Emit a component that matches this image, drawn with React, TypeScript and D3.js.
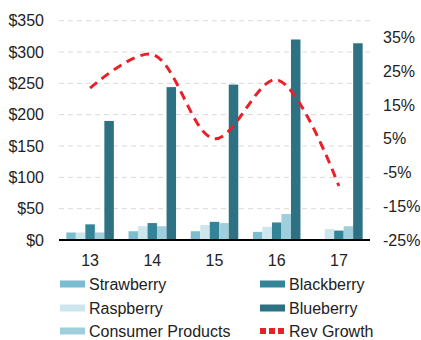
import React from "react";
import * as d3 from "d3";

const years = ["13", "14", "15", "16", "17"];
const seriesNames = ["Strawberry", "Raspberry", "Blackberry", "Consumer Products", "Blueberry"];
const strawberry = [12, 14, 14, 13, 0];
const raspberry = [12, 22, 24, 21, 17.5];
const blackberry = [25, 27, 29, 28, 15];
const consumerProducts = [12, 22, 27, 41.5, 22];
const blueberry = [190, 244, 248, 320, 314];
const revGrowth = [20, 30, 5, 22.5, -9];
const leftTicks = [0, 50, 100, 150, 200, 250, 300, 350];
const rightTicks = [-25, -15, -5, 5, 15, 25, 35];

const colors = ["#7bbccf", "#cde6ee", "#358397", "#9fcfdc", "#2e7182"];
const lineColor = "#e8202a";

export default function App() {
  const width = 421;
  const height = 340;
  const x0 = 59;
  const x1 = 370;
  const yTop = 20.7;
  const yBottom = 240;
  const font = "Liberation Sans, Arial, sans-serif";
  const fs = 16;

  const series = [strawberry, raspberry, blackberry, consumerProducts, blueberry];

  const x = d3.scaleBand<string>().domain(years).range([x0, x1]).paddingInner(0.236).paddingOuter(0.118);
  const xInner = d3.scaleBand<number>().domain(d3.range(series.length)).range([0, x.bandwidth()]);
  const yLeft = d3.scaleLinear().domain([0, 350]).range([yBottom, yTop]);
  const yRight = d3.scaleLinear().domain([-25, 40]).range([yBottom, yTop]);

  const line = d3
    .line<number>()
    .x((_, i) => (x(years[i]) as number) + x.bandwidth() / 2)
    .y((d) => yRight(d))
    .curve(d3.curveCatmullRom.alpha(0.5));

  const legendLeft = [0, 1, 3];
  const legendRight = [2, 4];
  const rowY = [284, 308, 331];

  return (
    <svg width={width} height={height} style={{ position: "absolute", left: 0, top: 0 }}>
      <rect width={width} height={height} fill="#ffffff" />
      {leftTicks.slice(1).map((t) => (
        <line key={t} x1={x0} x2={x1} y1={yLeft(t)} y2={yLeft(t)} stroke="#d9d9d9" strokeWidth={1} strokeDasharray="5,4" />
      ))}
      {leftTicks.map((t) => (
        <text key={t} x={44} y={yLeft(t)} dy="0.35em" textAnchor="end" fontFamily={font} fontSize={fs} fill="#222">
          ${t}
        </text>
      ))}
      {rightTicks.map((t) => (
        <text key={t} x={383} y={yRight(t)} dy="0.35em" textAnchor="start" fontFamily={font} fontSize={fs} fill="#222">
          {t}%
        </text>
      ))}
      {years.map((yr, gi) =>
        series.map((s, si) => {
          const v = s[gi];
          if (!v) return null;
          return (
            <rect
              key={yr + si}
              x={(x(yr) as number) + (xInner(si) as number)}
              y={yLeft(v)}
              width={xInner.bandwidth()}
              height={yBottom - yLeft(v)}
              fill={colors[si]}
            />
          );
        })
      )}
      <line x1={x0} x2={x1} y1={yBottom} y2={yBottom} stroke="#000" strokeWidth={2} />
      <path d={line(revGrowth) || ""} fill="none" stroke={lineColor} strokeWidth={3} strokeDasharray="9,6" />
      {years.map((yr) => (
        <text key={yr} x={(x(yr) as number) + x.bandwidth() / 2} y={260} dy="0.35em" textAnchor="middle" fontFamily={font} fontSize={fs} fill="#222">
          {yr}
        </text>
      ))}
      {legendLeft.map((si, r) => (
        <g key={si}>
          <rect x={60} y={rowY[r] - 3.5} width={25} height={7} fill={colors[si]} />
          <text x={89} y={rowY[r]} dy="0.35em" fontFamily={font} fontSize={fs} fill="#222">
            {seriesNames[si]}
          </text>
        </g>
      ))}
      {legendRight.map((si, r) => (
        <g key={si}>
          <rect x={260} y={rowY[r] - 3.5} width={25} height={7} fill={colors[si]} />
          <text x={289} y={rowY[r]} dy="0.35em" fontFamily={font} fontSize={fs} fill="#222">
            {seriesNames[si]}
          </text>
        </g>
      ))}
      <g>
        <line x1={260} x2={285} y1={rowY[2]} y2={rowY[2]} stroke={lineColor} strokeWidth={6} strokeDasharray="6,3" />
        <text x={289} y={rowY[2]} dy="0.35em" fontFamily={font} fontSize={fs} fill="#222">
          Rev Growth
        </text>
      </g>
    </svg>
  );
}
